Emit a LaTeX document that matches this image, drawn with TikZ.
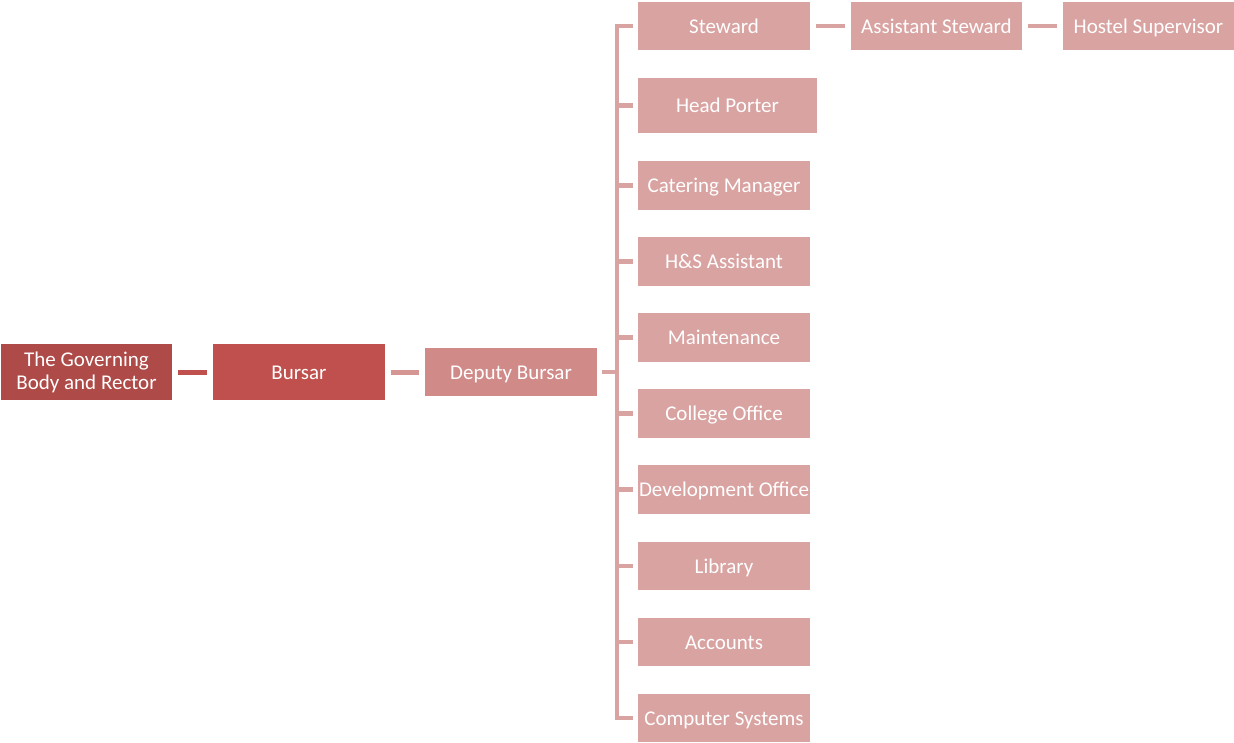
\documentclass[tikz,border=0pt]{standalone}
\usepackage{fontspec}
\setmainfont{Carlito}
\definecolor{govc}{HTML}{AE4A47}
\definecolor{bursc}{HTML}{C0504D}
\definecolor{depc}{HTML}{D08B89}
\definecolor{chc}{HTML}{D9A3A2}
\definecolor{lnA}{HTML}{C0504D}
\definecolor{lnB}{HTML}{D49593}
\begin{document}
\begin{tikzpicture}[x=1pt,y=-1pt,
  box/.style={inner sep=0pt, minimum width=172pt, minimum height=49pt, text=white, align=center,
    font=\fontsize{21}{23}\selectfont},
  one/.style={box, text height=15pt, text depth=0.5pt},
  child/.style={one, fill=chc},
  conn/.style={line width=4.5pt, draw=chc},
  gap/.style={shorten <=6pt, shorten >=6pt}]
\useasboundingbox (0,0) rectangle (1234,742);
\node[box, fill=govc, minimum width=171pt, minimum height=56pt] (gov) at (86.5,372) {The Governing\\Body and Rector};
\node[one, fill=bursc, minimum height=56pt] (bursar) at (299,372) {Bursar};
\node[one, fill=depc, minimum height=48pt] (dep) at (511,372) {Deputy Bursar};
\node[child, minimum height=48pt] (stew) at (724,26) {Steward};
\node[child, minimum width=179pt, minimum height=55pt] (hp) at (727.5,105.5) {Head Porter};
\node[child] (cat) at (724,185.5) {Catering Manager};
\node[child] (hs) at (724,261.5) {H\&S Assistant};
\node[child] (mnt) at (724,337.5) {Maintenance};
\node[child] (co) at (724,413.5) {College Office};
\node[child] (dev) at (724,489.5) {Development Office};
\node[child, minimum height=48pt] (lib) at (724,566) {Library};
\node[child, minimum height=48pt] (acc) at (724,642) {Accounts};
\node[child, minimum height=48pt] (cs) at (724,718) {Computer Systems};
\node[child, minimum width=171pt, minimum height=48pt] (ast) at (936.5,26) {Assistant Steward};
\node[child, minimum width=171pt, minimum height=48pt] (hos) at (1148.5,26) {Hostel Supervisor};
\coordinate (busmid) at (617,372);
\coordinate (bustop) at (617,26);
\coordinate (busbot) at (617,718);
\draw[line width=5pt, draw=lnA, gap] (gov) -- (bursar);
\draw[line width=5pt, draw=lnB, gap] (bursar) -- (dep);
\draw[conn, shorten <=5pt] (dep.east) -- (busmid);
\draw[conn, shorten <=5pt, shorten >=5pt, line join=miter] (stew.west) -- (bustop) -- (busbot) -- (cs.west);
\foreach \n in {hp,cat,hs,mnt,co,dev,lib,acc}{
  \draw[conn, shorten >=5pt] (bustop |- \n.west) -- (\n.west);
}
\draw[conn, gap] (stew) -- (ast);
\draw[conn, gap] (ast) -- (hos);
\end{tikzpicture}
\end{document}
